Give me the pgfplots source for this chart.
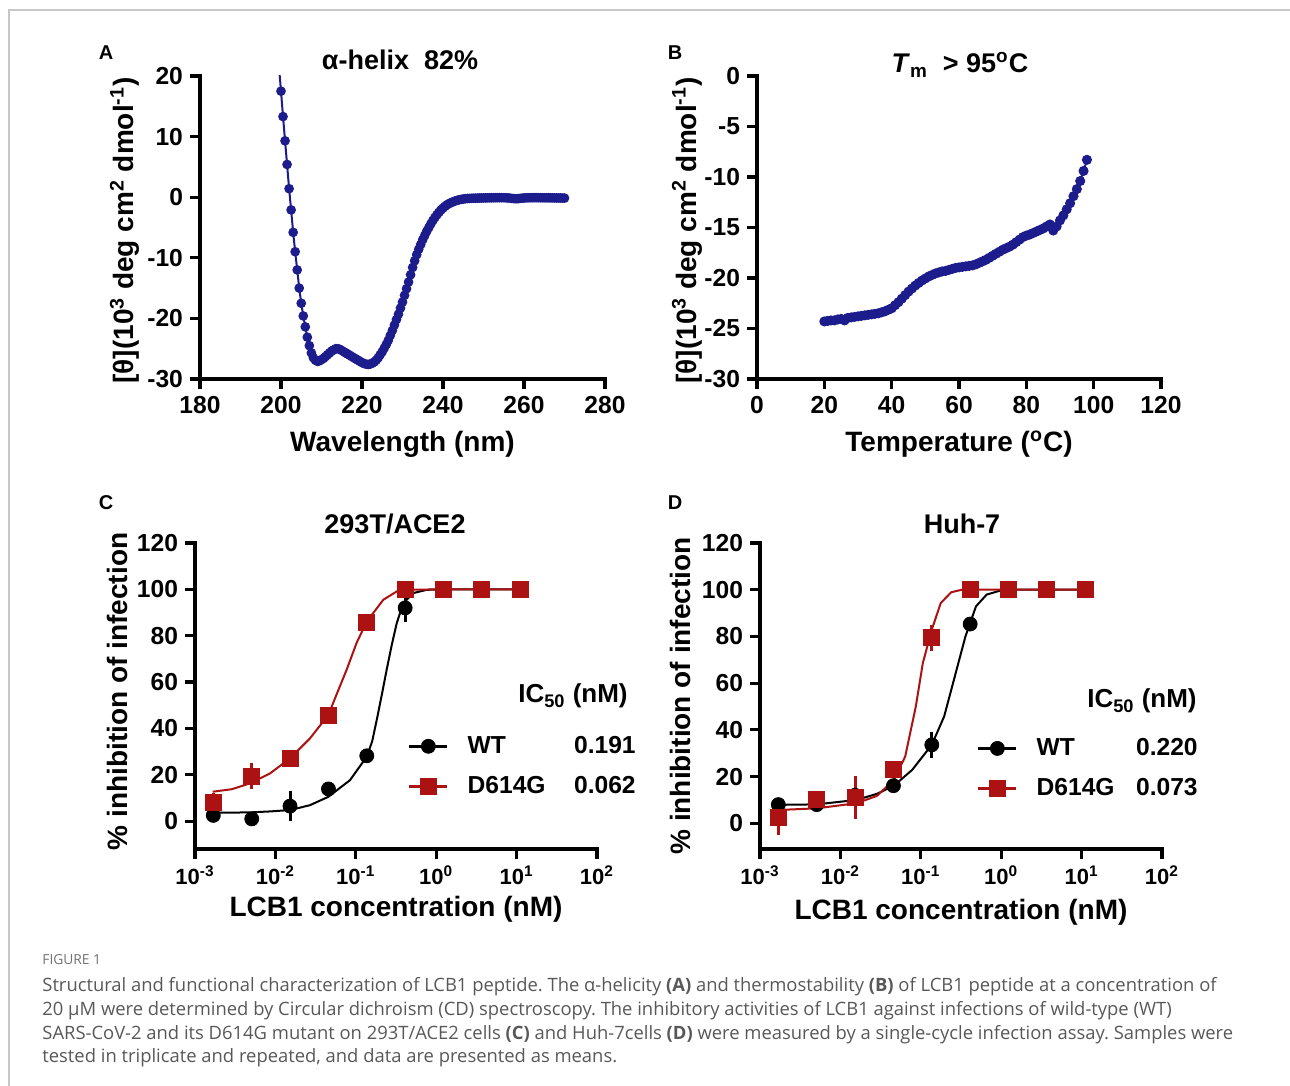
\documentclass[border=0pt]{standalone}
\usepackage{fontspec}
\setmainfont{Liberation Sans}
\newfontfamily\capfont{Open Sans}
\usepackage{pgfplots}
\pgfplotsset{compat=1.18}
\usepackage{pgfplotstable}
\definecolor{cdblue}{RGB}{28,28,140}
\definecolor{dred}{RGB}{172,18,18}
\definecolor{capgray}{RGB}{88,88,88}
\newcommand{\fs}[1]{\fontsize{#1}{#1}\selectfont}
\frenchspacing

\pgfplotstableread{
x y
199.5 21.5
200.0 17.5
200.5 13.3
201.0 9.3
201.5 5.4
202.0 1.4
202.5 -2.1
203.0 -5.8
203.5 -9.0
204.0 -12.0
204.5 -15.0
205.0 -17.5
205.5 -19.6
206.0 -21.4
206.5 -23.1
207.0 -24.5
207.5 -25.7
208.0 -26.5
208.5 -26.9
209.0 -27.1
209.5 -27.0
210.0 -26.8
210.5 -26.6
211.0 -26.3
211.5 -26.0
212.0 -25.7
212.5 -25.4
213.0 -25.2
213.5 -25.0
214.0 -25.0
214.5 -25.1
215.0 -25.3
215.5 -25.5
216.0 -25.7
216.5 -25.9
217.0 -26.1
217.5 -26.3
218.0 -26.5
218.5 -26.7
219.0 -26.9
219.5 -27.1
220.0 -27.3
220.5 -27.45
221.0 -27.55
221.5 -27.6
222.0 -27.55
222.5 -27.4
223.0 -27.2
223.5 -26.9
224.0 -26.5
224.5 -26.0
225.0 -25.5
225.5 -24.9
226.0 -24.3
226.5 -23.6
227.0 -22.8
227.5 -22.0
228.0 -21.1
228.5 -20.2
229.0 -19.3
229.5 -18.3
230.0 -17.3
230.5 -16.2
231.0 -15.1
231.5 -14.0
232.0 -12.8
232.5 -11.6
233.0 -10.5
233.5 -9.5
234.0 -8.6
234.5 -7.8
235.0 -7.0
235.5 -6.3
236.0 -5.6
236.5 -5.0
237.0 -4.4
237.5 -3.85
238.0 -3.35
238.5 -2.9
239.0 -2.5
239.5 -2.1
240.0 -1.8
240.5 -1.5
241.0 -1.25
241.5 -1.05
242.0 -0.9
242.5 -0.75
243.0 -0.62
243.5 -0.52
244.0 -0.43
244.5 -0.36
245.0 -0.3
245.5 -0.26
246.0 -0.22
246.5 -0.2
247.0 -0.18
247.5 -0.17
248.0 -0.16
248.5 -0.15
249.0 -0.14
249.5 -0.13
250.0 -0.12
250.5 -0.12
251.0 -0.11
251.5 -0.1
252.0 -0.1
252.5 -0.09
253.0 -0.09
253.5 -0.08
254.0 -0.08
254.5 -0.08
255.0 -0.08
255.5 -0.1
256.0 -0.12
256.5 -0.15
257.0 -0.2
257.5 -0.23
258.0 -0.25
258.5 -0.24
259.0 -0.2
259.5 -0.16
260.0 -0.13
260.5 -0.11
261.0 -0.1
261.5 -0.09
262.0 -0.08
262.5 -0.08
263.0 -0.08
263.5 -0.08
264.0 -0.09
264.5 -0.09
265.0 -0.1
265.5 -0.1
266.0 -0.1
266.5 -0.11
267.0 -0.11
267.5 -0.12
268.0 -0.12
268.5 -0.13
269.0 -0.13
269.5 -0.14
270.0 -0.15
}\cdtable

\pgfplotstableread{
x y
20 -24.3
21 -24.25
22 -24.2
23 -24.2
24 -24.1
25 -24.05
26 -24.2
27 -23.95
28 -23.9
29 -23.85
30 -23.8
31 -23.75
32 -23.7
33 -23.65
34 -23.6
35 -23.55
36 -23.5
37 -23.4
38 -23.3
39 -23.15
40 -23.0
41 -22.7
42 -22.4
43 -22.05
44 -21.7
45 -21.35
46 -21.05
47 -20.75
48 -20.5
49 -20.25
50 -20.05
51 -19.85
52 -19.7
53 -19.55
54 -19.45
55 -19.35
56 -19.3
57 -19.2
58 -19.1
59 -19.0
60 -18.95
61 -18.9
62 -18.85
63 -18.8
64 -18.75
65 -18.65
66 -18.5
67 -18.35
68 -18.2
69 -18.0
70 -17.8
71 -17.6
72 -17.4
73 -17.2
74 -17.05
75 -16.9
76 -16.7
77 -16.45
78 -16.2
79 -15.95
80 -15.8
81 -15.7
82 -15.55
83 -15.4
84 -15.25
85 -15.1
86 -14.9
87 -14.7
88 -15.3
89 -14.9
90 -14.3
91 -13.8
92 -13.2
93 -12.6
94 -11.9
95 -11.2
96 -10.4
97 -9.4
98 -8.3
}\tmtable

\pgfplotsset{
  prism/.style={
    scale only axis,
    anchor=south west,
    axis lines=left,
    axis line style={-, line width=1.6pt, line cap=rect, black},
    tick align=outside,
    major tick length=5pt,
    major tick style={line width=1.6pt, black},
    tick label style={font=\bfseries\fs{12.3}},
    /pgf/number format/assume math mode=true,
    label style={font=\bfseries\fs{14}},
    xlabel style={at={(axis description cs:0.5,0)}, anchor=base},
  },
  lgd/.style={
    legend style={draw=none, fill=none, inner sep=0pt, outer sep=0pt,
      font=\bfseries\fs{12.3}, row sep=10pt, legend cell align=left,
      nodes={inner sep=0pt, outer sep=0pt},
      /tikz/every odd column/.append style={column sep=9.5pt}},
  },
  wtimg/.style={legend image code/.code={
    \draw[black, line width=1.3pt] (0pt,0pt) -- (19pt,0pt);
    \draw[black] plot[mark=*, mark size=3.5pt, only marks] coordinates {(9.5pt,0pt)};}},
  mutimg/.style={legend image code/.code={
    \draw[dred, line width=1.3pt] (0pt,0pt) -- (19pt,0pt);
    \draw[dred] plot[mark=square*, mark size=4pt, only marks] coordinates {(9.5pt,0pt)};}},
}

\begin{document}
\begin{tikzpicture}
\path[use as bounding box] (0pt,0pt) rectangle (645pt,543pt);
\draw[black!22, line width=0.8pt] (4.5pt,0pt) -- (4.5pt,538pt) -- (645pt,538pt);

% ---------------- A ----------------
\begin{axis}[prism, at={(100pt,353.5pt)}, width=202.5pt, height=151.5pt,
  xmin=180, xmax=280, ymin=-30, ymax=20,
  xtick={180,200,...,280}, ytick={-30,-20,...,20},
  xlabel={Wavelength (nm)}, xlabel style={yshift=-36.5pt},
  ylabel={[θ](10\textsuperscript{3} deg cm\textsuperscript{2} dmol\textsuperscript{-1})},
  ylabel style={at={(axis description cs:-0.163,0.49)}, anchor=base}]
\addplot[cdblue, line width=1pt, mark=*, mark size=1.9pt] table[x=x,y=y] {\cdtable};
\end{axis}

% ---------------- B ----------------
\begin{axis}[prism, at={(378.5pt,353.5pt)}, width=202pt, height=151.5pt,
  xmin=0, xmax=120, ymin=-30, ymax=0,
  xtick={0,20,...,120}, ytick={-30,-25,...,0},
  xlabel={Temperature (\textsuperscript{o}C)}, xlabel style={yshift=-36.5pt},
  ylabel={[θ](10\textsuperscript{3} deg cm\textsuperscript{2} dmol\textsuperscript{-1})},
  ylabel style={at={(axis description cs:-0.151,0.49)}, anchor=base}]
\addplot[cdblue, line width=1pt, mark=*, mark size=2pt] table[x=x,y=y] {\tmtable};
\end{axis}

% ---------------- C ----------------
\begin{axis}[prism, lgd, at={(97.5pt,118.5pt)}, width=201pt, height=153pt,
  xmode=log, xmin=1e-3, xmax=100, ymin=-12, ymax=120,
  xtick={0.001,0.01,0.1,1,10,100},
  xticklabels={10\textsuperscript{-3},10\textsuperscript{-2},10\textsuperscript{-1},10\textsuperscript{0},10\textsuperscript{1},10\textsuperscript{2}},
  xminorticks=false, ytick={0,20,...,120},
  xticklabel style={font=\bfseries\fs{11}},
  xlabel={LCB1 concentration (nM)}, xlabel style={yshift=-34pt},
  ylabel={\% inhibition of infection},
  ylabel style={at={(axis description cs:-0.169,0.515)}, anchor=base},
  legend style={at={(0.53,0.27)}, anchor=west}]
\addplot[black, line width=1pt, forget plot] coordinates {
(1.66e-3,3.6) (2.88e-3,3.7) (4.83e-3,3.8) (8.57e-3,4.2) (0.0152,4.8) (0.0269,6.9)
(0.0455,10.5) (0.0847,17.7) (0.1368,27.8) (0.160,34.5) (0.182,43.6) (0.212,55)
(0.242,65.3) (0.28,76) (0.323,85.4) (0.39,94.1) (0.519,98.4) (0.762,99.8) (1.2,100) (11.1,100)};
\addplot[black, only marks, mark=*, mark size=3.5pt, wtimg,
  error bars/.cd, y dir=both, y explicit,
  error bar style={line width=1.5pt}, error mark options={line width=1.5pt, mark size=3pt}]
  coordinates {(0.00169,2.5) (0.00508,1.0) (0.0152,6.5) +- (0,4) (0.0457,13.9) (0.137,28.2)
  (0.411,92) +- (0,3.6) (1.233,100) (3.70,100) (11.1,100)};
\addlegendentry{\makebox[84pt][l]{WT\hfill 0.191}}
\addplot[dred, line width=1pt, forget plot] coordinates {
(1.66e-3,12.7) (2.88e-3,13.8) (4.83e-3,16.3) (8.57e-3,20.6) (0.0152,27.1) (0.0269,35.7)
(0.0455,45.8) (0.059,55.5) (0.0769,65.3) (0.1026,77) (0.1368,86.1) (0.2198,95.5) (0.323,99.1)
(0.472,99.8) (1.0,100) (11.1,100)};
\addplot[dred, only marks, mark=square*, mark size=4pt, mutimg,
  error bars/.cd, y dir=both, y explicit,
  error bar style={line width=1.5pt}, error mark options={line width=1.5pt, mark size=3pt}]
  coordinates {(0.00169,8.1) +- (0,1.5) (0.00508,19.5) +- (0,3) (0.0152,27.1) (0.0457,45.7)
  (0.137,85.9) (0.411,99.8) (1.233,100) (3.70,100) (11.1,100)};
\addlegendentry{\makebox[84pt][l]{D614G\hfill 0.062}}
\end{axis}

% ---------------- D ----------------
\begin{axis}[prism, lgd, at={(380pt,118.5pt)}, width=201pt, height=153pt,
  xmode=log, xmin=1e-3, xmax=100, ymin=-11, ymax=120,
  xtick={0.001,0.01,0.1,1,10,100},
  xticklabels={10\textsuperscript{-3},10\textsuperscript{-2},10\textsuperscript{-1},10\textsuperscript{0},10\textsuperscript{1},10\textsuperscript{2}},
  xminorticks=false, ytick={0,20,...,120},
  xticklabel style={font=\bfseries\fs{11}},
  xlabel={LCB1 concentration (nM)}, xlabel style={yshift=-35.5pt},
  ylabel={\% inhibition of infection},
  ylabel style={at={(axis description cs:-0.172,0.5)}, anchor=base},
  legend style={at={(0.54,0.263)}, anchor=west}]
\addplot[black, line width=1pt, forget plot] coordinates {
(1.69e-3,7.9) (5.07e-3,8.1) (0.0158,10) (0.0284,12.6) (0.0463,16.1) (0.0783,22.9)
(0.137,33.6) (0.195,45.7) (0.265,62.9) (0.359,80) (0.486,92.9) (0.659,97.9) (0.99,99.7) (1.34,100) (11.1,100)};
\addplot[black, only marks, mark=*, mark size=3.5pt, wtimg,
  error bars/.cd, y dir=both, y explicit,
  error bar style={line width=1.5pt}, error mark options={line width=1.5pt, mark size=3pt}]
  coordinates {(0.00169,8) (0.00508,8) (0.0152,12) (0.0457,16.1) (0.137,33.6) +- (0,3)
  (0.411,85.3) (1.233,100) (3.70,100) (11.1,100)};
\addlegendentry{\makebox[80.5pt][l]{WT\hfill 0.220}}
\addplot[dred, line width=1pt, forget plot] coordinates {
(1.69e-3,5.7) (5.07e-3,6.4) (0.0158,8.6) (0.0284,11.7) (0.0463,18.6) (0.064,28.6)
(0.0867,50) (0.106,68.6) (0.137,82.9) (0.177,94.3) (0.239,98.9) (0.324,100) (11.1,100)};
\addplot[dred, only marks, mark=square*, mark size=4pt, mutimg,
  error bars/.cd, y dir=both, y explicit,
  error bar style={line width=1.5pt}, error mark options={line width=1.5pt, mark size=3pt}]
  coordinates {(0.00169,2.5) +- (0,5) (0.00508,10.3) (0.0152,11) +- (0,6.5) (0.0457,22.9)
  (0.137,79.5) +- (0,3) (0.411,100) (1.233,100) (3.70,100) (11.1,100)};
\addlegendentry{\makebox[80.5pt][l]{D614G\hfill 0.073}}
\end{axis}

% ---------------- titles, panel letters, IC50 headers ----------------
\node[anchor=base, font=\bfseries\fs{10}, inner sep=0pt] at (53pt,513pt) {A};
\node[anchor=base, font=\bfseries\fs{10}, inner sep=0pt] at (337.5pt,513pt) {B};
\node[anchor=base, font=\bfseries\fs{10}, inner sep=0pt] at (53pt,288pt) {C};
\node[anchor=base, font=\bfseries\fs{10}, inner sep=0pt] at (337.5pt,288pt) {D};
\node[anchor=base, font=\bfseries\fs{13.5}, inner sep=0pt] at (200pt,508pt) {α-helix\ \ 82\%};
\node[anchor=base, font=\bfseries\fs{13.5}, inner sep=0pt] at (480pt,506.5pt) {\textit{T}\textsubscript{m}\ \ > 95\textsuperscript{o}C};
\node[anchor=base, font=\bfseries\fs{13.5}, inner sep=0pt] at (197.5pt,276pt) {293T/ACE2};
\node[anchor=base, font=\bfseries\fs{13.5}, inner sep=0pt] at (481pt,276pt) {Huh-7};
\node[anchor=base east, font=\bfseries\fs{13}, inner sep=0pt] at (314pt,191.5pt) {IC\textsubscript{50} (nM)};
\node[anchor=base east, font=\bfseries\fs{13}, inner sep=0pt] at (598.5pt,189pt) {IC\textsubscript{50} (nM)};

% ---------------- caption ----------------
\node[anchor=base west, inner sep=0pt, font=\capfont\fs{6.9}, text=capgray!85] at (21pt,60.5pt) {FIGURE 1};
\node[anchor=base west, inner sep=0pt, font=\capfont\fs{9.2}, text=capgray] at (21pt,47pt) {Structural and functional characterization of LCB1 peptide. The α-helicity \textbf{(A)} and thermostability \textbf{(B)} of LCB1 peptide at a concentration of};
\node[anchor=base west, inner sep=0pt, font=\capfont\fs{9.2}, text=capgray] at (21pt,35pt) {20 μM were determined by Circular dichroism (CD) spectroscopy. The inhibitory activities of LCB1 against infections of wild-type (WT)};
\node[anchor=base west, inner sep=0pt, font=\capfont\fs{9.2}, text=capgray] at (21pt,23pt) {SARS-CoV-2 and its D614G mutant on 293T/ACE2 cells \textbf{(C)} and Huh-7cells \textbf{(D)} were measured by a single-cycle infection assay. Samples were};
\node[anchor=base west, inner sep=0pt, font=\capfont\fs{9.2}, text=capgray] at (21pt,11.5pt) {tested in triplicate and repeated, and data are presented as means.};
\end{tikzpicture}
\end{document}
